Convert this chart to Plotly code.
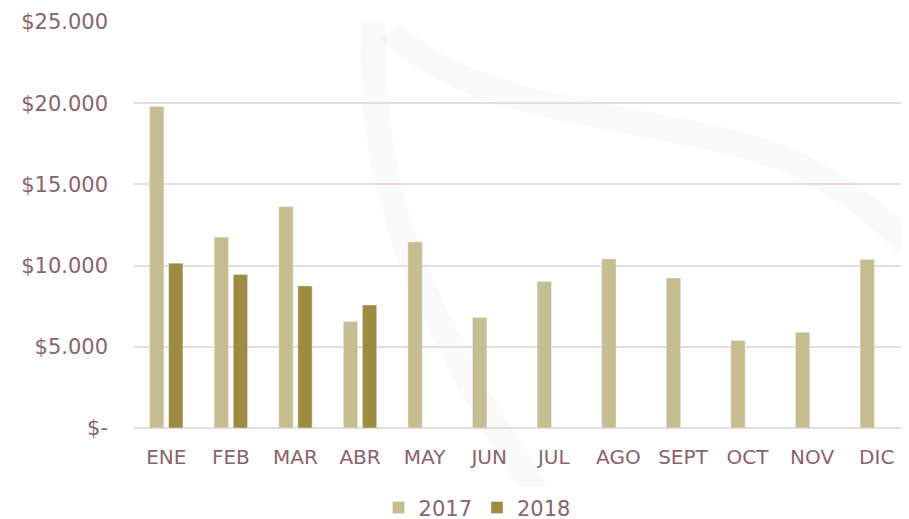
import plotly.graph_objects as go

months = ["ENE", "FEB", "MAR", "ABR", "MAY", "JUN", "JUL", "AGO", "SEPT", "OCT", "NOV", "DIC"]
v2017 = [19800, 11750, 13630, 6560, 11460, 6800, 9020, 10410, 9230, 5390, 5890, 10380]
v2018 = [10150, 9450, 8750, 7570, None, None, None, None, None, None, None, None]
tick_vals = [0, 5000, 10000, 15000, 20000, 25000]
tick_text = ["$-", "$5.000", "$10.000", "$15.000", "$20.000", "$25.000"]

txt = "#8A636B"
font = "DejaVu Sans"

fig = go.Figure()
fig.add_trace(go.Bar(name="2017", x=months, y=v2017, marker_color="#C6BD90"))
fig.add_trace(go.Bar(name="2018", x=months, y=v2018, marker_color="#9C8B40"))

# faint decorative watermark
fig.add_shape(type="path", xref="paper", yref="paper",
              path="M 0.31 1.0 C 0.30 0.6, 0.36 0.3, 0.55 -0.25",
              line=dict(color="rgba(0,0,0,0.018)", width=26), layer="below")
fig.add_shape(type="path", xref="paper", yref="paper",
              path="M 0.33 0.98 C 0.42 0.80, 0.60 0.78, 0.78 0.70 C 0.90 0.64, 0.98 0.50, 1.02 0.40",
              line=dict(color="rgba(0,0,0,0.018)", width=26), layer="below")

fig.update_layout(
    width=909, height=519,
    margin=dict(l=126, r=8, t=14, b=99, autoexpand=False),
    paper_bgcolor="white", plot_bgcolor="rgba(0,0,0,0)",
    barmode="group", bargap=0.41, bargroupgap=0.25,
    font=dict(family=font, size=21, color=txt),
    showlegend=True,
    legend=dict(orientation="h", x=0.516, xanchor="center", xref="container",
                y=0.037, yanchor="middle", yref="container",
                font=dict(size=21, color=txt), itemwidth=30, traceorder="normal"),
    xaxis=dict(showgrid=False, showline=False, ticks="", ticklabelstandoff=15,
               automargin=False, tickfont=dict(size=20, color=txt)),
    yaxis=dict(range=[0, 25000], tickvals=tick_vals, ticktext=tick_text,
               showgrid=True, gridcolor="#E8DCDF", gridwidth=2, zeroline=True,
               zerolinecolor="#E8DCDF", zerolinewidth=2, ticks="", automargin=False,
               ticklabelstandoff=25, tickfont=dict(size=21, color=txt)),
)

fig.write_html("out.html")
